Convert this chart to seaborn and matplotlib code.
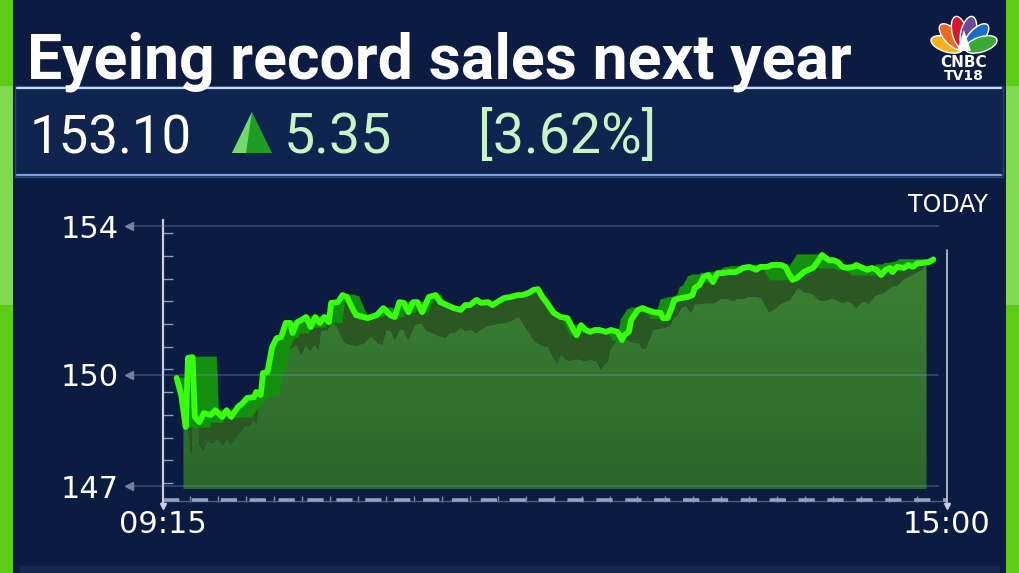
import numpy as np
import pandas as pd
import matplotlib
matplotlib.use("Agg")
import matplotlib.pyplot as plt
from matplotlib.patches import Rectangle, Polygon, Ellipse
from matplotlib.collections import PolyCollection
from matplotlib.colors import LinearSegmentedColormap
from matplotlib.transforms import Affine2D
import seaborn as sns

# ---- chart text ----
title = "Eyeing record sales next year"
last_price = "153.10"
change = "5.35"
change_pct = "[3.62%]"
period_label = "TODAY"
y_ticks = [147, 150, 154]
x_ticks = [0, 345]                 # minutes after 09:15
x_tick_labels = ["09:15", "15:00"]

# ---- intraday series (minutes after 09:15, price) ----
minutes = [
    6, 8, 10, 11, 13, 14, 16, 18, 21, 23,
    26, 28, 30, 33, 35, 37, 40, 41, 43, 44,
    46, 48, 50, 52, 54, 56, 57, 59, 61, 63,
    65, 67, 69, 71, 73, 74, 77, 79, 81, 83,
    85, 90, 94, 97, 100, 102, 104, 106, 108, 110,
    112, 114, 117, 120, 122, 125, 128, 131, 133, 135,
    138, 140, 143, 145, 147, 150, 153, 156, 158, 161,
    163, 165, 167, 169, 172, 175, 178, 180, 182, 184,
    186, 188, 190, 192, 195, 197, 200, 202, 203, 205,
    206, 209, 211, 213, 216, 219, 220, 222, 224, 225,
    228, 231, 233, 234, 236, 238, 240, 242, 244, 246,
    249, 252, 254, 255, 258, 261, 263, 266, 268, 272,
    274, 275, 277, 279, 282, 284, 286, 288, 290, 291,
    293, 295, 297, 299, 301, 304, 305, 308, 310, 312,
    314, 316, 318, 320, 321, 323, 326, 328, 330, 332,
    334, 337, 339,
]
prices = [
    149.91, 149.45, 148.59, 150.45, 150.47, 148.86, 148.72, 148.96, 148.91, 149.04,
    148.86, 149.04, 148.86, 149.13, 149.23, 149.37, 149.39, 149.53, 149.45, 150.04,
    150.07, 150.74, 150.98, 151.01, 151.39, 151.39, 151.12, 151.41, 151.47, 151.55,
    151.28, 151.55, 151.39, 151.55, 151.41, 151.93, 151.95, 152.14, 152.09, 151.82,
    151.60, 151.52, 151.60, 151.79, 151.60, 151.55, 151.95, 151.93, 151.68, 151.95,
    151.95, 151.68, 152.09, 152.14, 151.95, 151.87, 151.79, 151.74, 151.87, 151.87,
    152.01, 151.93, 151.95, 151.87, 151.95, 152.06, 152.09, 152.14, 152.14, 152.20,
    152.28, 152.30, 152.09, 151.93, 151.66, 151.55, 151.52, 151.28, 151.06, 151.33,
    151.20, 151.15, 151.20, 151.20, 151.15, 151.20, 151.15, 150.93, 151.06, 151.15,
    151.47, 151.74, 151.79, 151.74, 151.68, 151.66, 151.52, 151.52, 151.82, 152.01,
    152.06, 152.09, 152.14, 152.33, 152.41, 152.63, 152.68, 152.49, 152.73, 152.73,
    152.76, 152.76, 152.82, 152.87, 152.90, 152.82, 152.90, 152.90, 152.95, 152.95,
    152.90, 152.76, 152.55, 152.60, 152.76, 152.82, 152.87, 153.03, 153.22, 153.17,
    153.08, 153.08, 153.03, 152.90, 152.87, 152.90, 152.95, 152.87, 152.82, 152.87,
    152.82, 152.68, 152.82, 152.87, 152.76, 152.90, 152.87, 152.95, 152.90, 153.00,
    153.00, 153.03, 153.10,
]

NAVY = "#0b1b42"
W, H, DPI = 1019, 573, 100

sns.set_theme(style="dark")
plt.rcParams["font.family"] = ["DejaVu Sans"]

fig = plt.figure(figsize=(W / DPI, H / DPI), dpi=DPI, facecolor=NAVY)
# pixel coordinates, origin top-left
PX = Affine2D().scale(1 / DPI, -1 / DPI).translate(0, H / DPI) + fig.dpi_scale_trans


def rect(x0, y0, x1, y1, **kw):
    fig.add_artist(Rectangle((x0, y0), x1 - x0, y1 - y0, transform=PX, **kw))


# side strips
for x0 in (0, 1006):
    rect(x0, 0, x0 + 13, H, facecolor="#5ccc14", lw=0)
    rect(x0, 86, x0 + 13, 305, facecolor="#80d94e", lw=0)

# price box
rect(15, 86, 1003, 177, facecolor="#0f2550", edgecolor="#27457a", lw=1)
fig.add_artist(plt.Line2D([17, 1001], [88, 88], transform=PX, color="#c9d8ee", lw=1.6))
fig.add_artist(plt.Line2D([17, 1001], [175, 175], transform=PX, color="#7f9fd6", lw=1.6))
rect(20, 566, 1000, 573, facecolor="#2a3a60", lw=0, alpha=0.4)

# header texts
fig.text(27, 78, title, transform=PX, color="white", fontsize=45, fontweight="bold",
         family=["Roboto"], va="baseline")
fig.text(30, 153, last_price, transform=PX, color="white", fontsize=38,
         family=["Roboto"], va="baseline")
fig.add_artist(Polygon([(232, 153), (272, 153), (252, 112)], transform=PX,
                       facecolor="#1f9d22", lw=0))
fig.add_artist(Polygon([(232, 153), (246, 153), (252, 112)], transform=PX,
                       facecolor="#72da6a", lw=0))
fig.text(284, 153, change, transform=PX, color="#c9f3c4", fontsize=40,
         family=["Roboto"], va="baseline")
fig.text(478, 153, change_pct, transform=PX, color="#c9f3c4", fontsize=40,
         family=["Roboto"], va="baseline")

# logo
feather_cols = ["#f6b21b", "#ef6a22", "#d7182a", "#6c4a9a", "#1b6fc1", "#3aa935"]
for ang, col in zip([-72, -43, -14, 14, 43, 72], feather_cols):
    a = np.radians(ang)
    cx, cy = 964 + 18 * np.sin(a), 50 - 18 * np.cos(a)
    fig.add_artist(Ellipse((cx, cy), 15, 33, angle=ang, transform=PX,
                           facecolor=col, edgecolor="white", lw=1.0))
fig.add_artist(Polygon([(957, 51), (971, 51), (964, 30)], transform=PX,
                       facecolor="white", lw=0))
fig.text(964, 67, "CNBC", transform=PX, color="white", fontsize=11,
         fontweight="bold", ha="center", va="baseline")
fig.text(964, 80, "TV18", transform=PX, color="white", fontsize=10,
         fontweight="bold", ha="center", va="baseline")

fig.text(988, 212, period_label, transform=PX, color="white", fontsize=17,
         ha="right", va="baseline")

# ---- chart axes: x 163..947 px, y 220..502 px ----
ppu = 260 / 7.0
ax = fig.add_axes([163 / W, 1 - 502 / H, 784 / W, 282 / H])
ax.set_facecolor("none")
base = 146.92

m = np.array(minutes, dtype=float)
p = np.array(prices)

# 3d look: front face of the area is the line pushed down/aside,
# the ribbon is the line pulled toward the centre
depth = np.interp(m, [0, 150, 320, 339], [0.75, 0.75, 0.9, 0.15])
shift = np.interp(m, [6, 60, 190, 320, 339], [3, -4, -9, -11, -3])
sm = m + shift
sp = np.maximum(p - depth, 147.4)
bm = m + 0.078 * (148.7 - m)

band = Polygon(list(zip(m, p)) + list(zip(sm[::-1], sp[::-1])),
               facecolor="#2b5723", lw=0, zorder=2)
ax.add_patch(band)

face = Polygon(list(zip(sm, sp)) + [(sm[-1], base), (sm[0], base)],
               facecolor="none", lw=0, zorder=3)
ax.add_patch(face)
grad = np.linspace(0, 1, 256).reshape(-1, 1)
cmap = LinearSegmentedColormap.from_list("fill", ["#2b672c", "#3d8531"])
im = ax.imshow(grad, extent=[0, 345, base, 154], origin="lower", aspect="auto",
               cmap=cmap, zorder=3)
im.set_clip_path(face)

quads = [[(m[i], p[i]), (m[i + 1], p[i + 1]), (bm[i + 1], p[i + 1]), (bm[i], p[i])]
         for i in range(len(m) - 1)]
ax.add_collection(PolyCollection(quads, facecolor="#14900e", edgecolor="#14900e",
                                 lw=0.5, zorder=4))

df = pd.DataFrame({"minute": m, "price": p})
sns.lineplot(data=df, x="minute", y="price", ax=ax, color="#38ff0a", linewidth=4.2,
             estimator=None, sort=False, zorder=6)

ax.set_xlim(0, 345)
ax.set_ylim(154 - 276 / ppu, 154 + 6 / ppu)
ax.set_xlabel("")
ax.set_ylabel("")

# grid lines with arrow heads
gx0, gx1 = (129 - 163) / 784, (938 - 163) / 784
for t in y_ticks:
    ax.plot([gx0, gx1], [t, t], transform=ax.get_yaxis_transform(), color="#8a9abb",
            alpha=0.35, lw=1.2, clip_on=False, zorder=5)
    ax.plot([gx0], [t], transform=ax.get_yaxis_transform(), marker="<", ms=6,
            color="#7282a4", clip_on=False, zorder=5)

ax.set_yticks(y_ticks)
ax.set_yticklabels([str(t) for t in y_ticks], color="white", fontsize=22)
ax.set_yticks(np.linspace(153.81, 147.08, 12), minor=True)
ax.tick_params(axis="y", which="major", length=0, pad=32)
ax.tick_params(axis="y", which="minor", direction="in", length=7, width=1,
               color="#8c9bb8", left=True)

ax.set_xticks(x_ticks)
ax.set_xticklabels(x_tick_labels, color="white", fontsize=22)
ax.set_xticks(np.arange(12, 340, 12.3), minor=True)
ax.tick_params(axis="x", which="major", length=0, pad=6)
ax.tick_params(axis="x", which="minor", direction="in", length=4, width=1,
               color="#7d8aa8", bottom=True)

for s in ("top", "right", "bottom"):
    ax.spines[s].set_visible(False)
ax.spines["left"].set_color("#c8d0e0")
ax.spines["left"].set_linewidth(1.6)
ax.grid(False)

# axis lines, bottom dashes and end markers
ax.plot([0, 1], [0.004, 0.004], transform=ax.transAxes, color="#4a5f88", lw=1,
        clip_on=False)
ax.plot([0, 1], [0.006, 0.006], transform=ax.transAxes, color="#95a1ba", lw=2.6,
        ls=(0, (4.5, 3.5)), clip_on=False)
ax.plot([1, 1], [-0.012, 0.894], transform=ax.transAxes, color="#c0c8d8", lw=1.2,
        clip_on=False)
ax.plot([0, 1], [-0.014, -0.014], transform=ax.transAxes, ls="none", marker="v",
        ms=5, color="#c8d0e0", clip_on=False)

fig.savefig("out.png", dpi=DPI, facecolor=fig.get_facecolor())
